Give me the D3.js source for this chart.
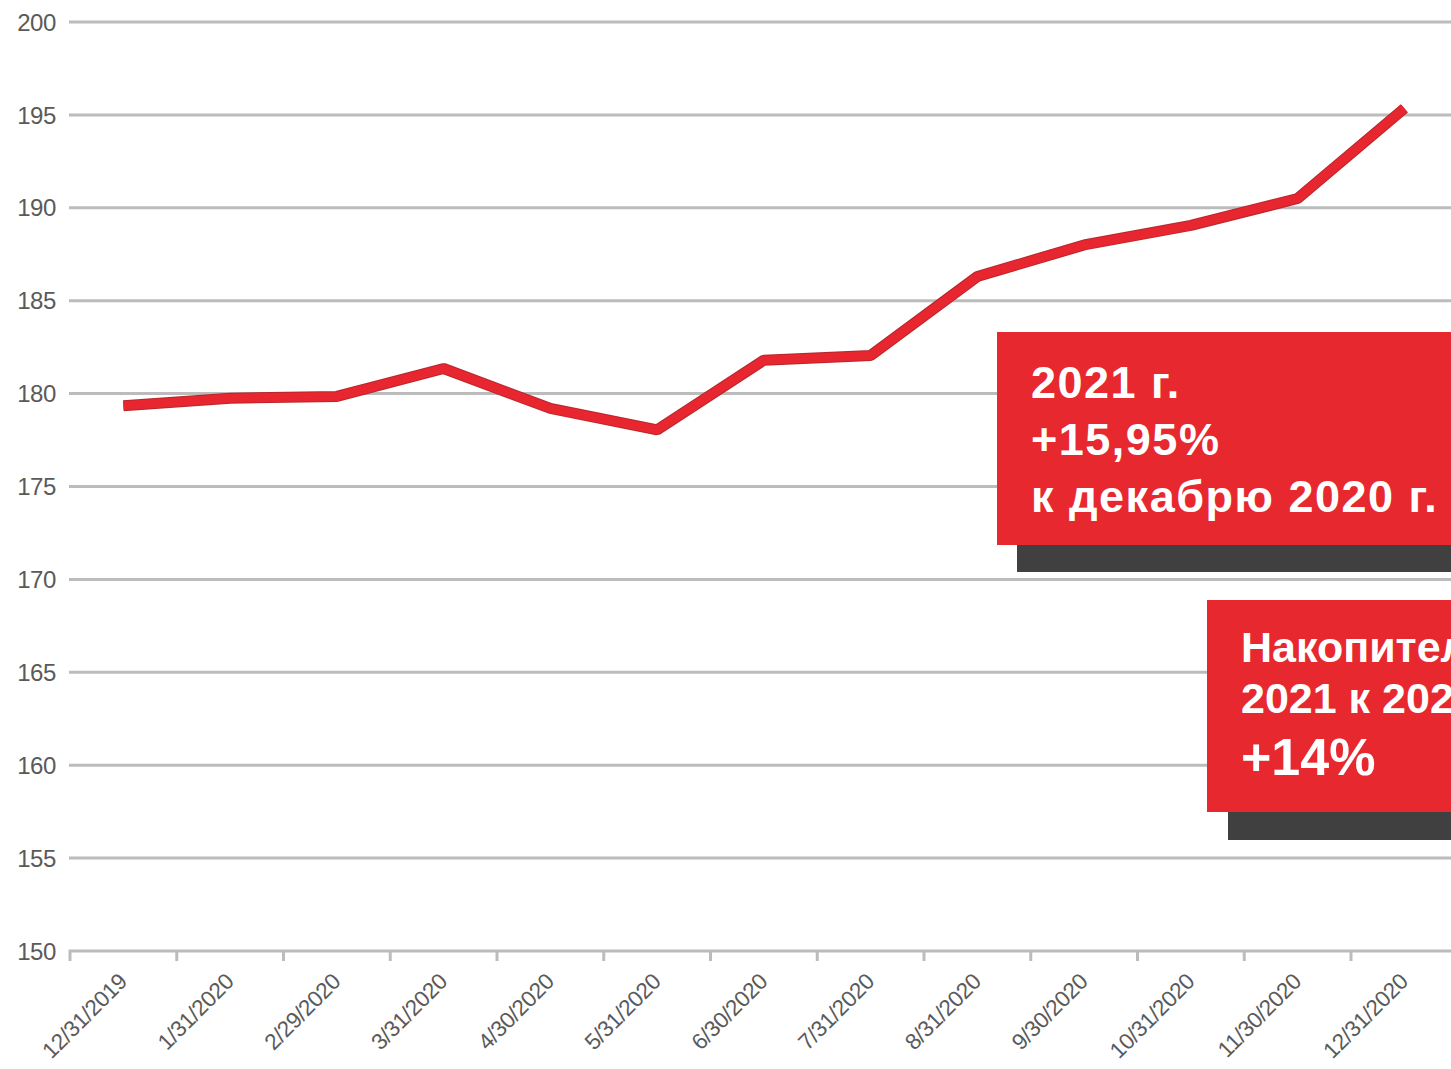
<!DOCTYPE html>
<html>
<head>
<meta charset="utf-8">
<script src="https://cdn.jsdelivr.net/npm/d3@7"></script>
<style>
  html, body { margin: 0; padding: 0; background: #fff; overflow: hidden; }
  svg { display: block; }
</style>
</head>
<body>
<svg id="chart" width="1451" height="1069"></svg>
<script>
const categories = ["12/31/2019","1/31/2020","2/29/2020","3/31/2020","4/30/2020","5/31/2020","6/30/2020","7/31/2020","8/31/2020","9/30/2020","10/31/2020","11/30/2020","12/31/2020"];
const values = [179.35, 179.75, 179.85, 181.35, 179.2, 178.05, 181.8, 182.05, 186.3, 188.0, 189.05, 190.5, 195.35];
const yTicks = [150,155,160,165,170,175,180,185,190,195,200];
const note1Lines = ["2021 г.", "+15,95%", "к декабрю 2020 г."];
const note2Lines = ["Накопительно", "2021 к 2020 г.", "+14%"];

const svg = d3.select("#chart");
const W = 1451;
const FONT = "'Liberation Sans', Arial, Helvetica, sans-serif";

const x = d3.scaleBand().domain(categories).range([70, 1457.75]).padding(0);
const y = d3.scaleLinear().domain([150, 200]).range([951, 22]);

// gridlines
svg.append("g").selectAll("line").data(yTicks).join("line")
  .attr("x1", 69).attr("x2", W)
  .attr("y1", d => y(d)).attr("y2", d => y(d))
  .attr("stroke", "#bcbcbc").attr("stroke-width", 3);

// y labels
svg.append("g").selectAll("text").data(yTicks).join("text")
  .attr("x", 56).attr("y", d => y(d)).attr("dy", "0.36em")
  .attr("text-anchor", "end")
  .attr("font-family", FONT).attr("font-size", 24).attr("letter-spacing", -0.4)
  .attr("fill", "#5a5a5a")
  .text(d => d);

// x ticks at band boundaries
const tickPos = categories.map(c => x(c));
svg.append("g").selectAll("line").data(tickPos).join("line")
  .attr("x1", d => d).attr("x2", d => d)
  .attr("y1", 950).attr("y2", 961)
  .attr("stroke", "#bcbcbc").attr("stroke-width", 3);

// x labels
svg.append("g").selectAll("text").data(categories).join("text")
  .attr("text-anchor", "end")
  .attr("transform", d => `translate(${x(d) + x.bandwidth()/2 + 5},${983}) rotate(-45)`)
  .attr("font-family", FONT).attr("font-size", 22.5).attr("letter-spacing", -0.4)
  .attr("fill", "#5a5a5a")
  .text(d => d);

// line
const line = d3.line()
  .x((d, i) => x(categories[i]) + x.bandwidth()/2)
  .y(d => y(d));
svg.append("path").datum(values)
  .attr("d", line).attr("fill", "none")
  .attr("stroke", "#b8262c").attr("stroke-width", 11)
  .attr("stroke-linejoin", "bevel");
svg.append("path").datum(values)
  .attr("d", line).attr("fill", "none")
  .attr("stroke", "#e8262f").attr("stroke-width", 9)
  .attr("stroke-linejoin", "bevel");

// annotation 1
const g1 = svg.append("g");
g1.append("rect").attr("x", 1017).attr("y", 360).attr("width", 500).attr("height", 212).attr("fill", "#404040");
g1.append("rect").attr("x", 997).attr("y", 332).attr("width", 500).attr("height", 213).attr("fill", "#e8282f");
g1.selectAll("text").data(note1Lines).join("text")
  .attr("x", 1031).attr("y", (d, i) => 398 + i * 57)
  .attr("font-family", FONT).attr("font-weight", "bold").attr("font-size", 45)
  .attr("letter-spacing", 1.5)
  .attr("fill", "#fff")
  .text(d => d);

// annotation 2
const g2 = svg.append("g");
g2.append("rect").attr("x", 1228).attr("y", 628).attr("width", 400).attr("height", 212).attr("fill", "#404040");
g2.append("rect").attr("x", 1207).attr("y", 600).attr("width", 400).attr("height", 212).attr("fill", "#e8282f");
g2.selectAll("text").data(note2Lines).join("text")
  .attr("x", 1241).attr("y", (d, i) => [662, 713, 775][i])
  .attr("font-family", FONT).attr("font-weight", "bold")
  .attr("font-size", (d, i) => i === 2 ? 52 : 43)
  .attr("fill", "#fff")
  .text(d => d);
</script>
</body>
</html>
